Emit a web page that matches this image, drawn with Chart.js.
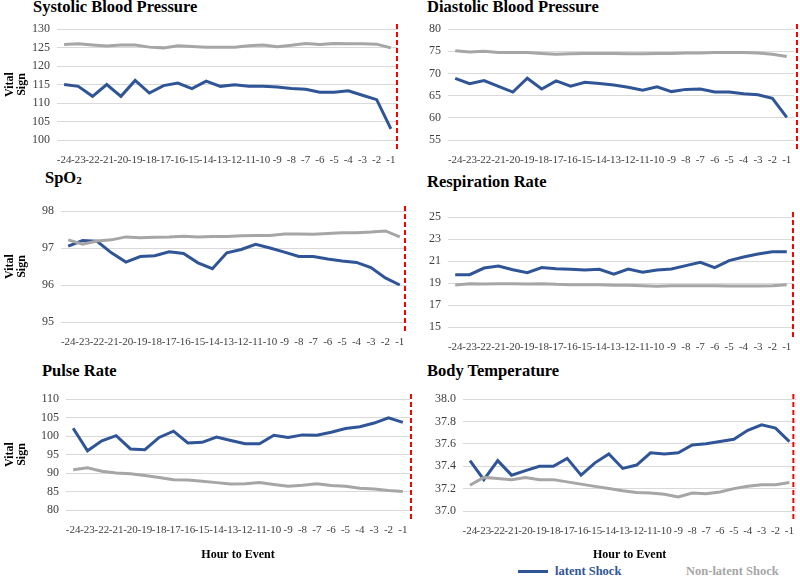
<!DOCTYPE html>
<html>
<head>
<meta charset="utf-8">
<script src="https://cdn.jsdelivr.net/npm/chart.js@4.4.0/dist/chart.umd.min.js"></script>
<style>
  body { margin: 0; background: #fff; }
  #page { position: relative; width: 800px; height: 576px; overflow: hidden; font-family: "Liberation Serif", "Times New Roman", serif; }
  .box { position: absolute; }
  .title { position: absolute; font-weight: bold; font-size: 16.5px; line-height: 16.5px; color: #000; white-space: nowrap; }
  .title sub { font-size: 11px; vertical-align: baseline; position: relative; top: 1px; }
  .legend { position: absolute; top: 563px; height: 16px; display: flex; align-items: center; font-weight: bold; font-size: 12.5px; }
</style>
</head>
<body>
<div id="page">
  <div class="title" style="left:33px; top:-1px;">Systolic Blood Pressure</div>
  <div class="title" style="left:427px; top:-1px;">Diastolic Blood Pressure</div>
  <div class="title" style="left:45px; top:170px;">SpO<sub>2</sub></div>
  <div class="title" style="left:427px; top:174px;">Respiration Rate</div>
  <div class="title" style="left:42px; top:363px;">Pulse Rate</div>
  <div class="title" style="left:427px; top:363px;">Body Temperature</div>

  <div class="box" style="left:0; top:14px; width:420px; height:151px;"><canvas id="sbp"></canvas></div>
  <div class="box" style="left:420px; top:14px; width:380px; height:151px;"><canvas id="dbp"></canvas></div>
  <div class="box" style="left:0; top:196px; width:420px; height:154px;"><canvas id="spo2"></canvas></div>
  <div class="box" style="left:420px; top:200px; width:380px; height:150px;"><canvas id="resp"></canvas></div>
  <div class="box" style="left:0; top:384px; width:420px; height:178px;"><canvas id="pulse"></canvas></div>
  <div class="box" style="left:420px; top:384px; width:380px; height:178px;"><canvas id="temp"></canvas></div>

  <div class="legend" style="left:518px;">
    <span style="display:inline-block; width:30px; height:3px; background:#2F5597; margin-right:7px;"></span>
    <span style="color:#2F5597;">latent Shock</span>
  </div>
  <div class="legend" style="left:686px; color:#A6A6A6;">Non-latent Shock</div>
</div>

<script>
// hours before the event
const hours = ["-24", "-23", "-22", "-21", "-20", "-19", "-18", "-17", "-16", "-15", "-14", "-13",
  "-12", "-11", "-10", "-9", "-8", "-7", "-6", "-5", "-4", "-3", "-2", "-1"];

const seriesNames = ["latent Shock", "Non-latent Shock"];

// systolic blood pressure
const sbpLatent = [115.0, 114.5, 111.8, 115.0, 111.8, 116.1, 112.7, 114.7, 115.4, 113.9, 115.9, 114.5,
  114.9, 114.5, 114.5, 114.3, 113.9, 113.7, 112.9, 112.9, 113.3, 112.1, 110.9, 103.0];
const sbpNonLatent = [125.8, 126.0, 125.7, 125.4, 125.7, 125.7, 125.1, 124.9, 125.5, 125.3, 125.1, 125.1,
  125.1, 125.5, 125.7, 125.2, 125.6, 126.1, 125.8, 126.1, 126.0, 126.0, 125.9, 124.9];
const sbpTicks = [100, 130, 5];

// diastolic blood pressure
const dbpLatent = [68.9, 67.7, 68.4, 67.1, 65.8, 68.9, 66.5, 68.3, 67.1, 68.0, 67.7, 67.4,
  66.9, 66.2, 67.0, 65.9, 66.4, 66.5, 65.8, 65.8, 65.4, 65.2, 64.4, 60.1];
const dbpNonLatent = [75.1, 74.8, 75.0, 74.7, 74.7, 74.7, 74.5, 74.3, 74.4, 74.5, 74.5, 74.5,
  74.4, 74.4, 74.5, 74.5, 74.6, 74.6, 74.7, 74.7, 74.7, 74.6, 74.3, 73.8];
const dbpTicks = [55, 80, 5];

// SpO2
const spo2Latent = [97.05, 97.2, 97.18, 96.87, 96.62, 96.77, 96.79, 96.9, 96.85, 96.6, 96.44, 96.87,
  96.96, 97.1, 97.0, 96.89, 96.77, 96.77, 96.7, 96.65, 96.61, 96.47, 96.19, 96.0];
const spo2NonLatent = [97.22, 97.1, 97.19, 97.22, 97.3, 97.28, 97.29, 97.3, 97.32, 97.3, 97.31, 97.31,
  97.33, 97.34, 97.34, 97.38, 97.38, 97.37, 97.39, 97.41, 97.41, 97.43, 97.46, 97.3];
const spo2Ticks = [95, 98, 1];

// respiration rate
const respLatent = [19.76, 19.76, 20.36, 20.55, 20.2, 19.94, 20.4, 20.3, 20.24, 20.18, 20.24, 19.8,
  20.27, 19.97, 20.18, 20.27, 20.58, 20.88, 20.4, 21.03, 21.36, 21.64, 21.85, 21.85];
const respNonLatent = [18.82, 18.94, 18.91, 18.94, 18.94, 18.91, 18.94, 18.88, 18.85, 18.85, 18.85, 18.79,
  18.79, 18.76, 18.7, 18.76, 18.76, 18.76, 18.76, 18.73, 18.73, 18.73, 18.76, 18.85];
const respTicks = [15, 25, 2];

// pulse rate
const pulseLatent = [102.1, 96.0, 98.7, 100.1, 96.5, 96.3, 99.6, 101.3, 98.1, 98.3, 99.7, 98.8,
  97.9, 97.9, 100.2, 99.6, 100.3, 100.2, 101.0, 102.0, 102.5, 103.5, 104.9, 103.7];
const pulseNonLatent = [90.9, 91.4, 90.5, 90.0, 89.8, 89.3, 88.8, 88.2, 88.1, 87.8, 87.4, 87.0,
  87.1, 87.4, 86.9, 86.4, 86.7, 87.1, 86.6, 86.4, 85.9, 85.7, 85.3, 85.0];
const pulseTicks = [80, 110, 5];

// body temperature
const tempLatent = [37.45, 37.28, 37.45, 37.32, 37.36, 37.40, 37.40, 37.47, 37.32, 37.43, 37.51, 37.38,
  37.41, 37.52, 37.51, 37.52, 37.59, 37.60, 37.62, 37.64, 37.72, 37.77, 37.74, 37.62];
const tempNonLatent = [37.23, 37.30, 37.29, 37.28, 37.30, 37.28, 37.28, 37.26, 37.24, 37.22, 37.20, 37.18,
  37.165, 37.16, 37.15, 37.125, 37.16, 37.155, 37.17, 37.20, 37.22, 37.235, 37.235, 37.255];
const tempTicks = [37.0, 38.0, 0.2];

const BLUE = "#2F5597";
const GRAY = "#A6A6A6";
const FONT = "'Liberation Serif', 'Times New Roman', serif";

Chart.defaults.font.family = FONT;
Chart.defaults.color = "#404040";

// dashed red marker at the event time, just right of the plot
const eventLine = {
  id: "eventLine",
  afterDraw(chart, args, opts) {
    const a = chart.chartArea;
    const ctx = chart.ctx;
    const x = a.right + opts.dx;
    ctx.save();
    ctx.strokeStyle = "#FF0000";
    ctx.lineWidth = 2;
    ctx.setLineDash([5, 3]);
    ctx.beginPath();
    ctx.moveTo(x, a.top - 5);
    ctx.lineTo(x, a.bottom + 10);
    ctx.stroke();
    ctx.restore();
  }
};

// p: { yWidth, xHeight, padTop, padRight, dx, leftCol, bottomRow, decimals }
function drawPanel(id, latent, nonLatent, ticks, p) {
  const ctx = document.getElementById(id).getContext("2d");
  return new Chart(ctx, {
    type: "line",
    data: {
      labels: hours,
      datasets: [
        { label: seriesNames[1], data: nonLatent, borderColor: GRAY, borderWidth: 3, pointRadius: 0, tension: 0 },
        { label: seriesNames[0], data: latent, borderColor: BLUE, borderWidth: 3, pointRadius: 0, tension: 0 },
      ],
    },
    options: {
      responsive: true,
      maintainAspectRatio: false,
      animation: false,
      layout: { padding: { top: p.padTop, right: p.padRight, left: 0, bottom: 0 } },
      plugins: {
        legend: { display: false },
        tooltip: { enabled: false },
        eventLine: { dx: p.dx },
      },
      scales: {
        x: {
          offset: true,
          grid: { display: false },
          border: { display: false },
          ticks: { autoSkip: false, maxRotation: 0, padding: 6, font: { size: 11 }, color: "#404040" },
          title: {
            display: p.bottomRow,
            text: "Hour to Event",
            color: "#000",
            font: { size: 12, weight: "bold" },
            padding: 0,
          },
          afterFit(scale) { scale.height = p.xHeight; },
        },
        y: {
          min: ticks[0],
          max: ticks[1],
          grid: { color: "#D9D9D9", lineWidth: 1, drawTicks: false },
          border: { display: false },
          ticks: {
            stepSize: ticks[2],
            padding: 7,
            font: { size: 12 },
            color: "#404040",
            callback: (v) => v.toFixed(p.decimals),
          },
          title: {
            display: p.leftCol,
            text: ["Vital", "Sign"],
            color: "#000",
            font: { size: 12, weight: "bold", lineHeight: 1 },
            padding: { top: 4, bottom: 0 },
          },
          afterFit(scale) { scale.width = p.yWidth; },
        },
      },
    },
    plugins: [eventLine],
  });
}

drawPanel("sbp", sbpLatent, sbpNonLatent, sbpTicks,
  { yWidth: 57, xHeight: 25, padTop: 15, padRight: 22, dx: -1, leftCol: true, bottomRow: false, decimals: 0 });
drawPanel("dbp", dbpLatent, dbpNonLatent, dbpTicks,
  { yWidth: 28, xHeight: 25, padTop: 15, padRight: 6, dx: 3, leftCol: false, bottomRow: false, decimals: 0 });
drawPanel("spo2", spo2Latent, spo2NonLatent, spo2Ticks,
  { yWidth: 61, xHeight: 28, padTop: 15, padRight: 13, dx: -2, leftCol: true, bottomRow: false, decimals: 0 });
drawPanel("resp", respLatent, respNonLatent, respTicks,
  { yWidth: 28, xHeight: 23, padTop: 17, padRight: 6, dx: -1, leftCol: false, bottomRow: false, decimals: 0 });
drawPanel("pulse", pulseLatent, pulseNonLatent, pulseTicks,
  { yWidth: 66, xHeight: 52, padTop: 15, padRight: 10, dx: 1, leftCol: true, bottomRow: true, decimals: 0 });
drawPanel("temp", tempLatent, tempNonLatent, tempTicks,
  { yWidth: 43, xHeight: 51, padTop: 15, padRight: 0, dx: -3, leftCol: false, bottomRow: true, decimals: 1 });
</script>
</body>
</html>
